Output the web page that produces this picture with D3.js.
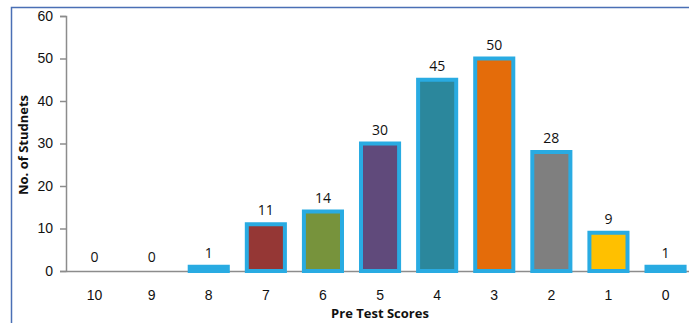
<!DOCTYPE html>
<html>
<head>
<meta charset="utf-8">
<script src="https://cdn.jsdelivr.net/npm/d3@7"></script>
<style>
  body { margin: 0; background: #fff; }
  svg { display: block; font-family: "Open Sans", Lato, sans-serif; }
</style>
</head>
<body>
<div id="chart"></div>
<script>
// Pre test scores and number of students
const scores = ["10", "9", "8", "7", "6", "5", "4", "3", "2", "1", "0"];
const students = [0, 0, 1, 11, 14, 30, 45, 50, 28, 9, 1];
const barColors = ["#29abe2", "#29abe2", "#29abe2", "#953735", "#77933c", "#604a7b",
                   "#2b879c", "#e46c0a", "#7f7f7f", "#ffc000", "#29abe2"];
const yTicks = [0, 10, 20, 30, 40, 50, 60];

const width = 689, height = 323;
const margin = {left: 66, top: 16, bottom: 52};

const svg = d3.select("#chart").append("svg")
    .attr("width", width)
    .attr("height", height);

// outer frame (only top and left edges are visible)
svg.append("rect")
    .attr("x", 11.5).attr("y", 7.5)
    .attr("width", 700).attr("height", 400)
    .attr("fill", "none")
    .attr("stroke", "#4a6fb5")
    .attr("stroke-width", 1.5);

const x = d3.scaleBand()
    .domain(scores)
    .range([margin.left, margin.left + 11 * 57.1])
    .paddingInner(0.333)
    .paddingOuter(0.1665);

const y = d3.scaleLinear()
    .domain([0, 60])
    .range([271, margin.top]);

// y axis
const yAxis = svg.append("g")
    .attr("transform", `translate(${margin.left},0)`)
    .call(d3.axisLeft(y).tickValues(yTicks).tickSize(6).tickPadding(7));
yAxis.select(".domain").attr("stroke", "#8c8c8c").attr("stroke-width", 1.5);
yAxis.selectAll(".tick line").attr("stroke", "#8c8c8c").attr("stroke-width", 1.5);
yAxis.selectAll("text")
    .style("font-size", "14px")
    .attr("fill", "#111");

// x axis
const xAxis = svg.append("g")
    .attr("transform", `translate(0,${y(0)})`)
    .call(d3.axisBottom(x).tickSize(0).tickPadding(19));
xAxis.select(".domain").attr("stroke", "#8c8c8c").attr("stroke-width", 1.5);
xAxis.selectAll("text")
    .style("font-size", "14px")
    .attr("fill", "#111");

// bars
const data = scores.map((s, i) => ({score: s, value: students[i], color: barColors[i]}));

svg.selectAll(".bar")
    .data(data.filter(d => d.value > 0))
    .enter()
    .append("rect")
    .attr("class", "bar")
    .attr("x", d => x(d.score))
    .attr("y", d => y(d.value))
    .attr("width", x.bandwidth())
    .attr("height", d => y(0) - y(d.value))
    .attr("fill", d => d.color)
    .attr("stroke", "#29abe2")
    .attr("stroke-width", 4);

// value labels
svg.selectAll(".label")
    .data(data)
    .enter()
    .append("text")
    .attr("class", "label")
    .attr("x", d => x(d.score) + x.bandwidth() / 2)
    .attr("y", d => y(d.value) - 9)
    .attr("text-anchor", "middle")
    .style("font-size", "14px")
    .attr("fill", "#111")
    .text(d => d.value);

// axis titles
svg.append("text")
    .attr("transform", "translate(28,145) rotate(-90)")
    .attr("text-anchor", "middle")
    .style("font-size", "13px")
    .style("font-weight", "bold")
    .attr("fill", "#111")
    .text("No. of Studnets");

svg.append("text")
    .attr("x", 380)
    .attr("y", 318)
    .attr("text-anchor", "middle")
    .style("font-size", "13px")
    .style("font-weight", "bold")
    .attr("fill", "#111")
    .text("Pre Test Scores");
</script>
</body>
</html>
